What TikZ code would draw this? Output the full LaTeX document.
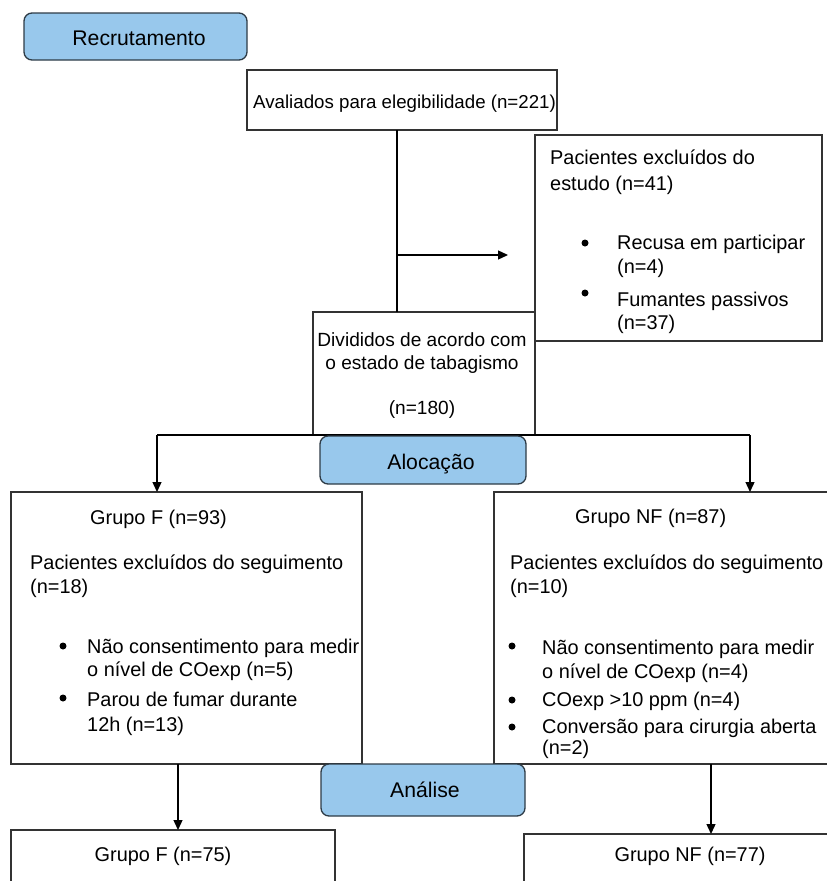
\documentclass[tikz,border=0pt]{standalone}
\usepackage{fontspec}
\setmainfont{Liberation Sans}
\usetikzlibrary{arrows.meta}
\definecolor{phase}{HTML}{98C8EC}
\definecolor{phaseedge}{HTML}{2E3B46}
\definecolor{edge}{HTML}{333333}
\begin{document}
\begin{tikzpicture}[x=1pt,y=-1pt,
  font=\fontsize{19.9}{24}\selectfont,
  box/.style={draw=edge, line width=1.3pt, fill=white, inner sep=0pt, outer sep=0pt, anchor=north west},
  phasebox/.style={draw=phaseedge, line width=1.3pt, fill=phase, rounded corners=8pt, inner sep=0pt, outer sep=0pt, anchor=north west},
  phasetxt/.style={inner sep=0pt, anchor=base, font=\fontsize{21.2}{24}\selectfont},
  txt/.style={inner sep=0pt, anchor=base west},
  ctxt/.style={inner sep=0pt, anchor=base},
  bul/.style={circle, fill=black, inner sep=0pt, minimum size=7pt},
  conn/.style={draw=black, line width=1.3pt},
  arr/.style={conn, -{Triangle[length=10pt,width=9pt]}}]
\useasboundingbox (0,0) rectangle (827,881);
\clip (0,0) rectangle (827,881);

% boxes
\node[phasebox, minimum width=223pt, minimum height=47pt] (rec) at (24,13) {};
\node[phasetxt] (trec) at (139,45) {Recrutamento};
\node[box, minimum width=310pt, minimum height=60pt] (aval) at (247,70) {};
\node[box, minimum width=287pt, minimum height=206pt] (excl) at (535,135) {};
\node[box, minimum width=222pt, minimum height=123pt] (divb) at (313,312) {};

% connectors top
\coordinate (v1) at (397,255);
\coordinate (xend) at (508,255);
\draw[conn] (aval.south -| v1) -- (v1 |- divb.north);
\draw[arr] (v1) -- (xend);

\coordinate (hl) at (157,435);
\coordinate (hr) at (750,435);
\node[box, minimum width=351pt, minimum height=272pt] (gf) at (11,492) {};
\node[box, minimum width=340pt, minimum height=272pt] (gnf) at (494,492) {};
\draw[conn] (hl) -- (hr);
\draw[arr] (hl) -- (hl |- gf.north);
\draw[arr] (hr) -- (hr |- gnf.north);
\node[phasebox, minimum width=206pt, minimum height=48pt] (aloc) at (320,436) {};
\node[phasetxt] (taloc) at (431,469) {Alocação};

% bottom
\node[box, minimum width=324pt, minimum height=80pt] (gf2) at (11,830) {};
\node[box, minimum width=320pt, minimum height=80pt] (gnf2) at (524,834) {};
\coordinate (bl) at (178,764);
\coordinate (br) at (711,764);
\draw[arr] (bl) -- (bl |- gf2.north);
\draw[arr] (br) -- (br |- gnf2.north);
\node[phasebox, minimum width=204pt, minimum height=52pt] (anal) at (321,764) {};
\node[phasetxt] (tanal) at (425,797) {Análise};

% texts
\node[txt, font=\fontsize{18.7}{24}\selectfont] (ta) at (253,108) {Avaliados para elegibilidade (n=221)};

\node[txt] (te1) at (550,164) {Pacientes excluídos do};
\node[txt] (te2) at (550,190) {estudo (n=41)};
\node[bul] (be1) at (585,243) {};
\node[txt] (te3) at (617,249) {Recusa em participar};
\node[txt] (te4) at (617,273) {(n=4)};
\node[bul] (be2) at (585,293) {};
\node[txt] (te5) at (617,306) {Fumantes passivos};
\node[txt] (te6) at (617,329) {(n=37)};

\begin{scope}[font=\fontsize{19.1}{24}\selectfont]
\node[ctxt] (td1) at (422,346) {Divididos de acordo com};
\node[ctxt] (td2) at (422,369) {o estado de tabagismo};
\node[ctxt] (td3) at (422,414) {(n=180)};
\end{scope}

\node[txt] (tf1) at (90,524) {Grupo F (n=93)};
\node[txt] (tf2) at (30,569) {Pacientes excluídos do seguimento};
\node[txt] (tf3) at (30,593) {(n=18)};
\node[bul] (bf1) at (63,646) {};
\node[txt] (tf4) at (87,653) {Não consentimento para medir};
\node[txt] (tf5) at (87,676) {o nível de COexp (n=5)};
\node[bul] (bf2) at (63,698) {};
\node[txt] (tf6) at (87,706) {Parou de fumar durante};
\node[txt] (tf7) at (87,731) {12h (n=13)};

\node[txt] (tn1) at (575,523) {Grupo NF (n=87)};
\node[txt] (tn2) at (510,569) {Pacientes excluídos do seguimento};
\node[txt] (tn3) at (510,593) {(n=10)};
\node[bul] (bn1) at (512,646) {};
\node[txt] (tn4) at (542,654) {Não consentimento para medir};
\node[txt] (tn5) at (542,678) {o nível de COexp (n=4)};
\node[bul] (bn2) at (512,700) {};
\node[txt] (tn6) at (542,706) {COexp >10 ppm (n=4)};
\node[bul] (bn3) at (512,727) {};
\node[txt] (tn7) at (542,733) {Conversão para cirurgia aberta};
\node[txt] (tn8) at (542,754) {(n=2)};

\node[ctxt] (tb1) at (163,861) {Grupo F (n=75)};
\node[ctxt] (tb2) at (690,861) {Grupo NF (n=77)};
\end{tikzpicture}
\end{document}
